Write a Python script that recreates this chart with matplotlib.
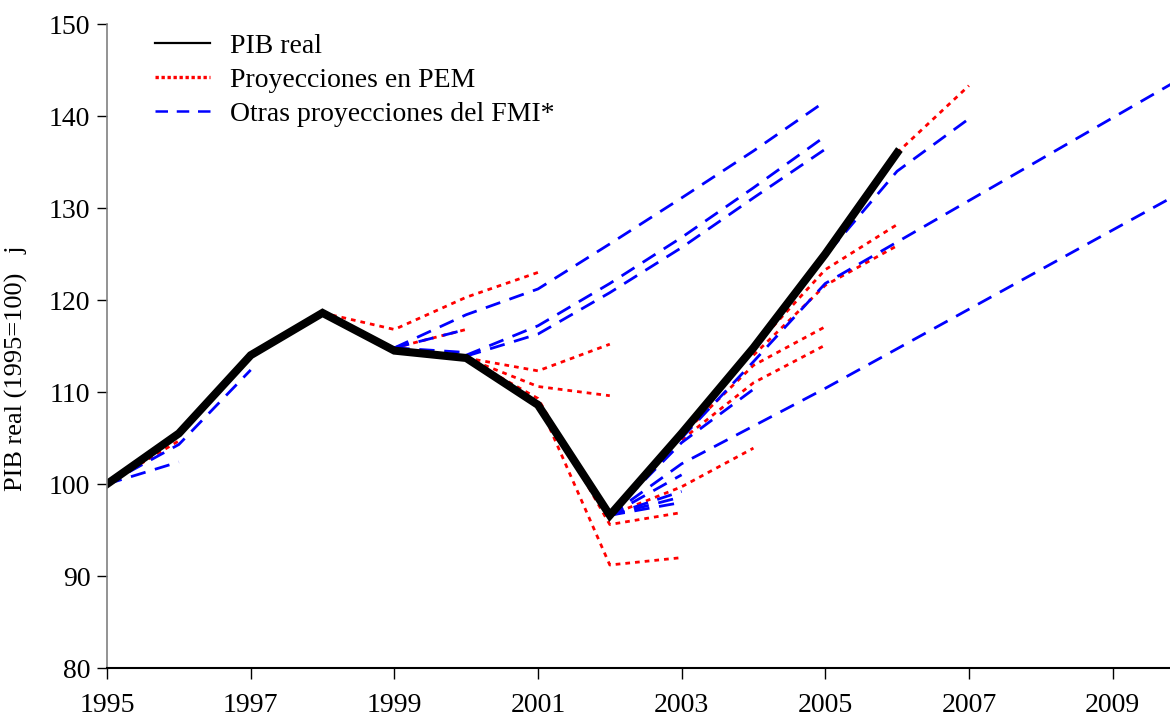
import matplotlib
matplotlib.use("Agg")
import matplotlib.pyplot as plt
from matplotlib.lines import Line2D

plt.rcParams['font.family'] = ['Liberation Serif', 'DejaVu Serif']

# PIB real (1995=100)
pib_years = [1995, 1996, 1997, 1998, 1999, 2000, 2001, 2002, 2003, 2004, 2005, 2006]
pib_values = [100.0, 105.5, 114.0, 118.6, 114.5, 113.7, 108.6, 96.6, 105.5, 114.8, 125.0, 136.0]

# Proyecciones en PEM (rojo punteado)
pem_proyecciones = [
    ([1995, 1996], [100.0, 104.7]),
    ([1998, 1999, 2000, 2001], [118.6, 116.8, 120.3, 123.0]),
    ([1999, 2000], [114.8, 116.8]),
    ([2000, 2001, 2002], [113.7, 112.3, 115.2]),
    ([2000, 2001, 2002], [113.7, 110.6, 109.6]),
    ([2000, 2001, 2002, 2003], [113.7, 109.3, 95.6, 96.9]),
    ([2001, 2002, 2003], [109.0, 91.2, 92.0]),
    ([2002, 2003, 2004], [96.6, 99.7, 103.9]),
    ([2003, 2004, 2005], [104.8, 111.0, 115.1]),
    ([2003, 2004, 2005], [105.3, 112.9, 117.1]),
    ([2004, 2005, 2006], [114.8, 123.3, 128.2]),
    ([2004, 2005, 2006], [114.0, 121.6, 125.9]),
    ([2006, 2007], [136.0, 143.3]),
]

# Otras proyecciones del FMI (azul discontinuo)
fmi_proyecciones = [
    ([1995, 1996], [100.0, 102.4]),
    ([1995, 1996, 1997], [100.0, 104.3, 112.4]),
    ([1999, 2000, 2001, 2002, 2003, 2004, 2005], [114.8, 118.4, 121.2, 126.1, 131.1, 136.2, 141.6]),
    ([1999, 2000], [114.8, 116.8]),
    ([1999, 2000], [114.8, 114.3]),
    ([2000, 2001, 2002, 2003, 2004, 2005], [114.0, 117.2, 121.8, 126.8, 132.2, 137.8]),
    ([2000, 2001, 2002, 2003, 2004, 2005], [113.9, 116.3, 120.8, 125.7, 131.1, 136.4]),
    ([2002, 2003], [96.6, 98.0]),
    ([2002, 2003], [96.6, 98.6]),
    ([2002, 2003], [96.6, 99.2]),
    ([2002, 2003], [96.6, 101.0]),
    ([2002, 2003, 2004, 2005, 2006, 2007, 2008, 2009, 2010],
     [96.6, 102.2, 106.3, 110.4, 114.7, 119.0, 123.3, 127.6, 131.9]),
    ([2002, 2003, 2004], [96.6, 104.5, 110.3]),
    ([2003, 2004, 2005, 2006, 2007, 2008, 2009, 2010],
     [105.0, 113.3, 121.8, 126.3, 130.8, 135.3, 139.8, 144.3]),
    ([2004, 2005, 2006, 2007], [114.5, 124.8, 134.0, 139.7]),
]

x_ticks = [1995, 1997, 1999, 2001, 2003, 2005, 2007, 2009]
y_ticks = [80, 90, 100, 110, 120, 130, 140, 150]

fig = plt.figure(figsize=(11.7, 7.17), dpi=100)
ax = fig.add_axes([0.0915, 0.0683, 0.9085, 0.8982])

for yrs, vals in pem_proyecciones:
    ax.plot(yrs, vals, color='red', linewidth=2.0, dashes=(1.7, 1.8))

for yrs, vals in fmi_proyecciones:
    ax.plot(yrs, vals, color='blue', linewidth=2.0, dashes=(5.5, 3.5))

ax.plot(pib_years, pib_values, color='black', linewidth=5.8, solid_joinstyle='miter')

ax.set_xlim(1995, 2009.8)
ax.set_ylim(80, 150)
ax.set_xticks(x_ticks)
ax.set_yticks(y_ticks)
ax.tick_params(axis='x', direction='out', length=8, width=1, pad=10, labelsize=20)
ax.tick_params(axis='y', direction='out', length=7, width=1, pad=5, labelsize=20)

ax.spines['top'].set_visible(False)
ax.spines['right'].set_visible(False)
ax.spines['left'].set_color('#808080')
ax.spines['left'].set_linewidth(1.2)
ax.spines['bottom'].set_color('black')
ax.spines['bottom'].set_linewidth(1.5)

ax.set_ylabel("PIB real (1995=100)   j", fontsize=19)
ax.yaxis.set_label_coords(-0.074, 0.465)

handles = [
    Line2D([], [], color='black', linewidth=1.6),
    Line2D([], [], color='red', linewidth=2.4, dashes=(1.0, 0.8)),
    Line2D([], [], color='blue', linewidth=1.8, dashes=(5.0, 3.5)),
]
labels = ["PIB real", "Proyecciones en PEM", "Otras proyecciones del FMI*"]
ax.legend(handles, labels, loc='upper left', frameon=False, fontsize=20,
          handlelength=2.0, handletextpad=0.7, labelspacing=0.3, borderpad=0,
          borderaxespad=0, bbox_to_anchor=(0.045, 0.985))

fig.savefig("out.png", dpi=100)
